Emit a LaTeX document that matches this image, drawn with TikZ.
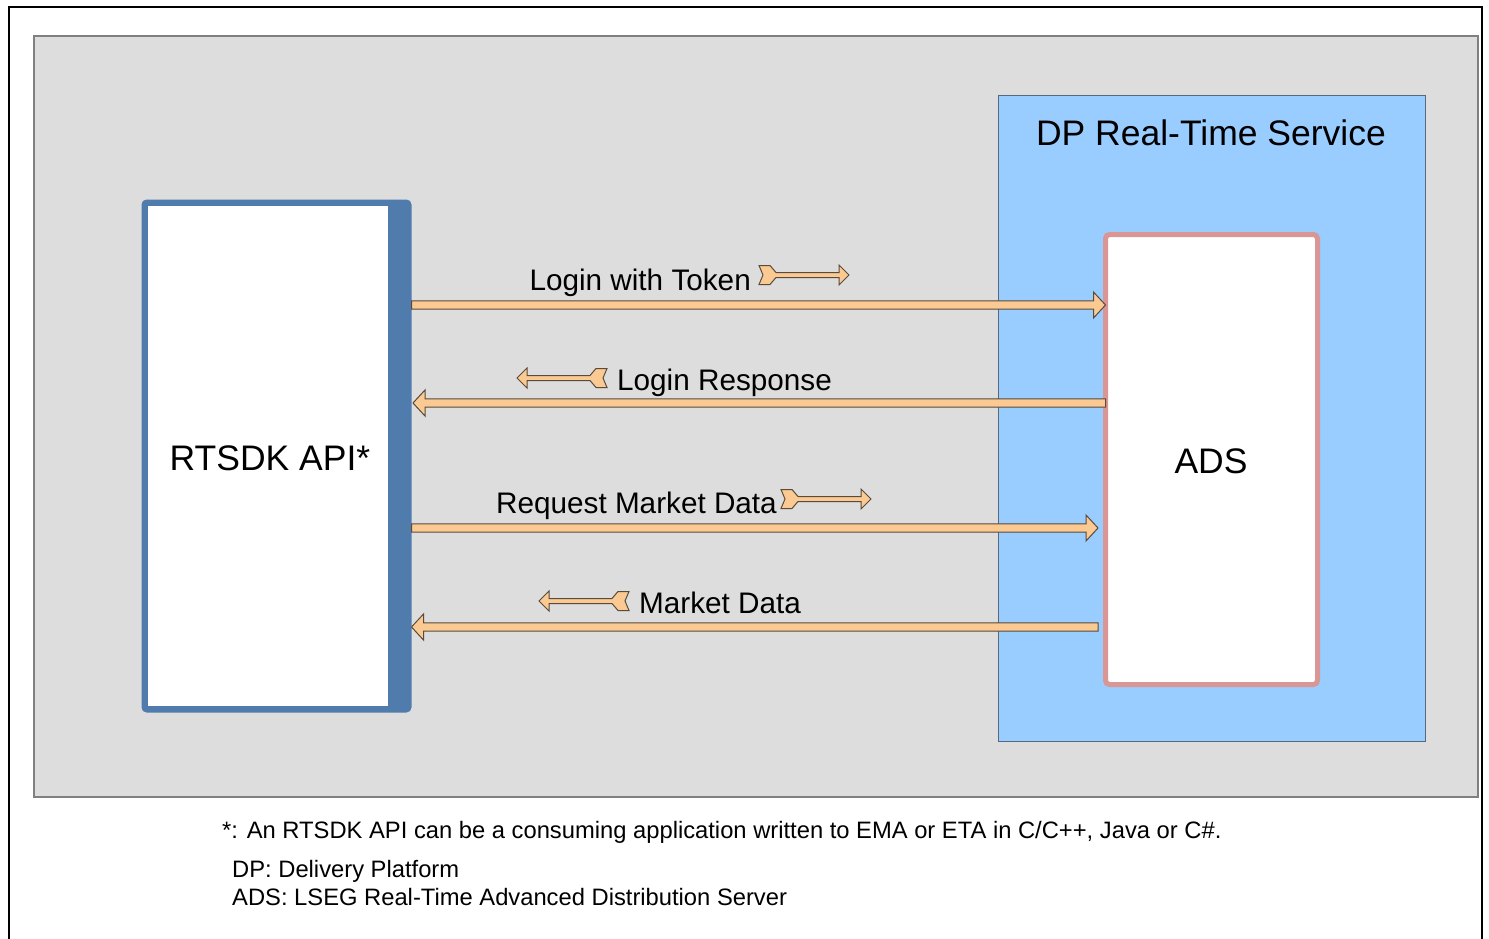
\documentclass[tikz,border=0pt]{standalone}
\usepackage{fontspec}
\setmainfont{Liberation Sans}
\usetikzlibrary{calc}
\definecolor{bggray}{HTML}{DDDDDD}
\definecolor{bgedge}{HTML}{808080}
\definecolor{dpblue}{HTML}{99CCFF}
\definecolor{dpedge}{HTML}{56687E}
\definecolor{apiblue}{HTML}{4F7BAD}
\definecolor{adspink}{HTML}{D99694}
\definecolor{arrfill}{HTML}{FBCA93}
\definecolor{arredge}{HTML}{5A4A3A}
\tikzset{
  bigfont/.style={font=\fontsize{35.5}{40}\selectfont},
  lblfont/.style={font=\fontsize{29.7}{34}\selectfont},
  footfont/.style={font=\fontsize{23.75}{28}\selectfont},
  arrowshape/.style={fill=arrfill, draw=arredge, line width=1pt, line join=miter},
}
\newcommand\bigarr[2]{%
  \draw[arrowshape] let \p1=(#1), \p2=(#2), \n1={ifthenelse(\x2>\x1,1,-1)} in
    (\x1,\y1+4.2pt) -- ({\x2-(\n1)*12pt},\y1+4.2pt) -- ({\x2-(\n1)*12pt},\y1+13pt)
    -- (\x2,\y1) -- ({\x2-(\n1)*12pt},\y1-13pt) -- ({\x2-(\n1)*12pt},\y1-4.2pt)
    -- (\x1,\y1-4.2pt) -- cycle;}
\newcommand\smallarr[2]{% #1 position (left end, centre), #2 xscale (1 right, -1 left)
  \draw[arrowshape, shift={(#1)}, xscale=#2]
    (0,-9.5) -- (11,-9.5) -- (17,-2.5) -- (80,-2.5) -- (80,-10) -- (90,0)
    -- (80,10) -- (80,2.5) -- (17,2.5) -- (11,9.5) -- (0,9.5) -- (4,0) -- cycle;}
\begin{document}
\begin{tikzpicture}[x=1pt,y=-1pt]
\useasboundingbox (0,0) rectangle (1489,939);
% outer frame
\draw[line width=1.5pt, black] (9,950) -- (9,7) -- (1482,7) -- (1482,950);
% gray background
\draw[fill=bggray, draw=bgedge, line width=1.5pt] (34,36) rectangle (1478,797);
% DP box
\node[draw=dpedge, fill=dpblue, line width=1pt, minimum width=427pt, minimum height=645pt, anchor=north west, inner sep=0pt, outer sep=0pt] (dp) at (998,96) {};
\node[bigfont, anchor=base] (dptitle) at (1211,146) {DP Real-Time Service};
% ADS box
\node[draw=adspink, fill=white, line width=5pt, rounded corners=4pt, minimum width=212pt, minimum height=450pt, anchor=north west, inner sep=0pt, outer sep=0pt] (ads) at (1105.5,234.5) {};
\node[bigfont, anchor=base] (adstxt) at (1211,473) {ADS};
% RTSDK box
\node[fill=apiblue, rounded corners=5pt, minimum width=270pt, minimum height=513pt, anchor=north west, inner sep=0pt, outer sep=0pt] (rt) at (141.5,199.5) {};
\fill[white] (148,206) rectangle (388,706);
\node[bigfont, anchor=base] (rttxt) at (270,470) {RTSDK API*};
% long arrows
\coordinate (a1s) at (rt.east |- 0,305);
\coordinate (a1e) at (ads.west |- 0,305);
\coordinate (a2s) at (ads.west |- 0,403);
\coordinate (a2e) at (413,403);
\coordinate (a3s) at (rt.east |- 0,528);
\coordinate (a3e) at (1098,528);
\coordinate (a4s) at (1098,627);
\coordinate (a4e) at (rt.east |- 0,627);
\bigarr{a1s}{a1e}
\bigarr{a2s}{a2e}
\bigarr{a3s}{a3e}
\bigarr{a4s}{a4e}
% labels
\node[lblfont, anchor=base east, inner sep=0pt] (l1) at (751,290) {Login with Token};
\smallarr{759,275}{1}
\node[lblfont, anchor=base west, inner sep=0pt] (l2) at (617,390) {Login Response};
\smallarr{607,378}{-1}
\node[lblfont, anchor=base east, inner sep=0pt] (l3) at (777,513) {Request Market Data};
\smallarr{781,499}{1}
\node[lblfont, anchor=base west, inner sep=0pt] (l4) at (639,613) {Market Data};
\smallarr{629,601}{-1}
% footer
\node[footfont, anchor=base west, inner sep=0pt] (f1) at (222,838) {*: An RTSDK API can be a consuming application written to EMA or ETA in C/C++, Java or C\#.};
\node[footfont, anchor=base west, inner sep=0pt] (f2) at (232,877) {DP: Delivery Platform};
\node[footfont, anchor=base west, inner sep=0pt] (f3) at (232,905) {ADS: LSEG Real-Time Advanced Distribution Server};
\end{tikzpicture}
\end{document}
